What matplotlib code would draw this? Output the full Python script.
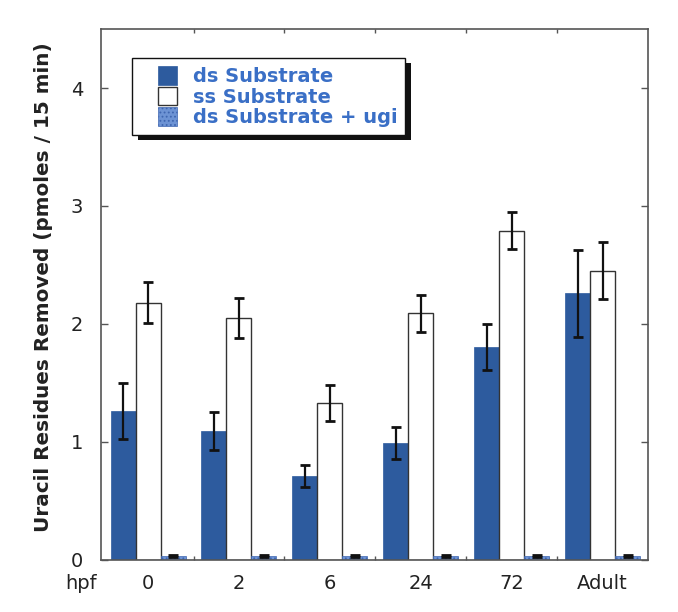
import numpy as np
import matplotlib
matplotlib.use("Agg")
import matplotlib.pyplot as plt
from matplotlib.ticker import FixedLocator
from matplotlib.patches import Rectangle
from matplotlib.container import BarContainer
from matplotlib.legend_handler import HandlerPatch, update_from_first_child
from matplotlib.transforms import IdentityTransform

plt.rcParams['font.family'] = ['DejaVu Sans']
plt.rcParams['hatch.linewidth'] = 0.8

# Data
groups = ['0', '2', '6', '24', '72', 'Adult']
ds_vals = [1.26, 1.09, 0.71, 0.99, 1.80, 2.26]
ds_err = [0.235, 0.16, 0.095, 0.135, 0.195, 0.37]
ss_vals = [2.18, 2.05, 1.33, 2.09, 2.79, 2.45]
ss_err = [0.175, 0.17, 0.15, 0.155, 0.155, 0.24]
ugi_vals = [0.03, 0.03, 0.03, 0.03, 0.03, 0.03]
ugi_err = [0.01, 0.01, 0.01, 0.01, 0.01, 0.01]

ds_color = '#2d5b9e'
ugi_color = '#6d93d4'
text_blue = '#3a6fc6'

fig = plt.figure(figsize=(6.78, 6.12), dpi=100)
ax = fig.add_axes([0.149, 0.0855, 0.807, 0.867])

x = np.arange(len(groups))
w = 0.275
err_kw = dict(ecolor='#111111', elinewidth=1.6, capsize=3.5, capthick=2)

ax.bar(x - w, ds_vals, w, yerr=ds_err, color=ds_color, edgecolor=ds_color,
       linewidth=0.5, error_kw=err_kw, label='ds Substrate', zorder=2)
ax.bar(x, ss_vals, w, yerr=ss_err, color='white', edgecolor='#333333',
       linewidth=1.0, error_kw=err_kw, label='ss Substrate', zorder=2)
ax.bar(x + w, ugi_vals, w, yerr=ugi_err, color=ugi_color, edgecolor='#3f66b0',
       hatch='....', linewidth=0.5, error_kw=err_kw, label='ds Substrate + ugi', zorder=2)

ax.set_xlim(-0.517, 5.5)
ax.set_ylim(0, 4.5)

# axis ticks
ax.set_yticks([0, 1, 2, 3, 4])
ax.set_xticks(x)
ax.set_xticklabels(groups)
ax.xaxis.set_minor_locator(FixedLocator(x[:-1] + 0.5))
ax.tick_params(axis='x', which='major', length=0, pad=10, labelsize=14, colors='#222222')
ax.tick_params(axis='x', which='minor', direction='in', length=3, width=1,
               top=True, bottom=True, color='#555555')
ax.tick_params(axis='y', direction='in', length=5, width=1, right=True,
               pad=13, labelsize=14, labelcolor='#222222', color='#555555')

for s in ax.spines.values():
    s.set_color('#555555')
    s.set_linewidth(1.2)

ax.set_ylabel('Uracil Residues Removed (pmoles / 15 min)', fontsize=14.4,
              fontweight='bold', color='#222222')
ax.yaxis.set_label_coords(-0.088, 0.514)

ax.text(-0.007, -0.044, 'hpf', transform=ax.transAxes, fontsize=14,
        color='#222222', ha='right', va='center')


# legend squares sit at the right end of a wide handle box
def square_patch(legend, orig_handle, xdescent, ydescent, width, height, fontsize):
    return Rectangle((-xdescent + width - height, -ydescent), height, height)


leg = ax.legend(loc='upper left', bbox_to_anchor=(0.057, 0.945), borderaxespad=0,
                frameon=True, fancybox=False, shadow=False,
                handlelength=1.9, handleheight=1.1, handletextpad=0.82,
                labelspacing=0.04, borderpad=0.4,
                handler_map={BarContainer: HandlerPatch(patch_func=square_patch,
                                                        update_func=update_from_first_child)},
                prop={'size': 14, 'weight': 'bold'})
leg.get_frame().set_edgecolor('#111111')
leg.get_frame().set_linewidth(1.0)
leg.get_frame().set_alpha(1)
for t in leg.get_texts():
    t.set_color(text_blue)

# drop shadow behind the legend box
fig.canvas.draw()
bb = leg.get_frame().get_window_extent()
ax.add_patch(Rectangle((bb.x0 + 6, bb.y0 - 5), bb.width, bb.height,
                       transform=IdentityTransform(), facecolor='#111111',
                       edgecolor='none', zorder=4.9))

fig.savefig('out.png', dpi=100)
